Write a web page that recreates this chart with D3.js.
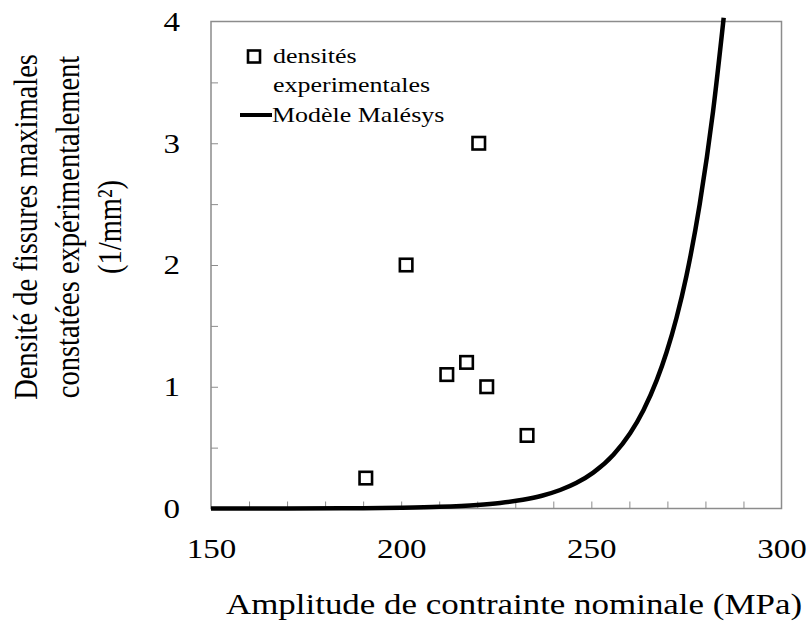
<!DOCTYPE html>
<html>
<head>
<meta charset="utf-8">
<script src="https://cdn.jsdelivr.net/npm/d3@7"></script>
<style>
  html, body { margin: 0; padding: 0; background: #fff; }
  svg { display: block; }
  svg text { font-family: "Liberation Serif", "Times New Roman", Tinos, Times, "DejaVu Serif", serif; fill: #000; }
</style>
</head>
<body>
<svg id="chart" width="807" height="630"></svg>
<script>
// Experimental maximum crack densities (stress amplitude in MPa, density in 1/mm²)
const expStress  = [190.7, 201.3, 212.0, 217.2, 220.4, 222.5, 233.1];
const expDensity = [0.25, 2.0, 1.1, 1.2, 3.0, 1.0, 0.6];

// Malésys model curve, sampled along the stress axis
const modelStress  = [150, 170, 190, 200, 210, 220, 226, 232, 237, 241.8, 246, 250.5, 255.8, 260.2, 263.7, 267.2, 269.8, 272.4, 275, 278.5, 282, 284.8];
const modelDensity = [0.0, 0.0007, 0.003, 0.0063, 0.0135, 0.029, 0.046, 0.072, 0.105, 0.152, 0.209, 0.295, 0.442, 0.618, 0.807, 1.054, 1.285, 1.567, 1.91, 2.50, 3.26, 4.03];

// Axis ticks
const xTickLabels = [150, 200, 250, 300];
const yTickLabels = [0, 1, 2, 3, 4];
const xMinorTicks = d3.range(160, 300, 10);
const yMinorTicks = d3.range(0.5, 4, 0.5);

const legendLabels = ["densités", "experimentales", "Modèle Malésys"];
const xTitle = "Amplitude de contrainte nominale (MPa)";
const yTitleLines = ["Densité de fissures maximales", "constatées expérimentalement", "(1/mm²)"];

const SERIF = '"Liberation Serif", "Times New Roman", Tinos, Times, "DejaVu Serif", serif';
const WIDEN = 1.18;   // horizontal glyph widening used for all labels

const svg = d3.select("#chart");
const plot = { left: 211, right: 781.5, top: 21.5, bottom: 508.5 };

const x = d3.scaleLinear().domain([150, 300]).range([plot.left, plot.right]);
const y = d3.scaleLinear().domain([0, 4]).range([plot.bottom, plot.top]);

// Stretch a horizontal text element sideways around its anchor
function widen(sel) {
  sel.each(function () {
    const len = this.getComputedTextLength();
    d3.select(this).attr("textLength", len * WIDEN).attr("lengthAdjust", "spacingAndGlyphs");
  });
}

// Inward minor ticks along the bottom and left edges
const axisGrey = "#8c8c8c";
svg.append("g")
  .attr("transform", `translate(0,${plot.bottom})`)
  .call(d3.axisBottom(x).tickValues(xMinorTicks).tickSize(-7).tickFormat(""))
  .call(g => g.select(".domain").remove())
  .call(g => g.selectAll("line").attr("stroke", axisGrey).attr("stroke-width", 1));
svg.append("g")
  .attr("transform", `translate(${plot.left},0)`)
  .call(d3.axisLeft(y).tickValues(yMinorTicks).tickSize(-7).tickFormat(""))
  .call(g => g.select(".domain").remove())
  .call(g => g.selectAll("line").attr("stroke", axisGrey).attr("stroke-width", 1));

// Plot frame
svg.append("rect")
  .attr("x", plot.left).attr("y", plot.top)
  .attr("width", plot.right - plot.left).attr("height", plot.bottom - plot.top)
  .attr("fill", "none").attr("stroke", axisGrey).attr("stroke-width", 1.5);

// Tick labels
svg.append("g")
  .attr("transform", `translate(0,${plot.bottom})`)
  .call(d3.axisBottom(x).tickValues(xTickLabels).tickSize(0).tickPadding(30).tickFormat(d3.format("d")))
  .attr("font-family", SERIF).attr("font-size", 28)
  .call(g => g.select(".domain").remove())
  .call(g => g.selectAll("text").attr("fill", "#000").call(widen));
svg.append("g")
  .attr("transform", `translate(${plot.left},0)`)
  .call(d3.axisLeft(y).tickValues(yTickLabels).tickSize(0).tickPadding(31).tickFormat(d3.format("d")))
  .attr("font-family", SERIF).attr("font-size", 28)
  .call(g => g.select(".domain").remove())
  .call(g => g.selectAll("text").attr("fill", "#000").call(widen));

// Model curve
const line = d3.line()
  .x(i => x(modelStress[i]))
  .y(i => y(modelDensity[i]))
  .curve(d3.curveMonotoneX);
svg.append("path")
  .datum(d3.range(modelStress.length))
  .attr("d", line)
  .attr("fill", "none").attr("stroke", "#000").attr("stroke-width", 4.5);

// Experimental points (hollow squares)
const sq = 12.5;
svg.append("g").selectAll("rect")
  .data(d3.range(expStress.length))
  .join("rect")
  .attr("x", i => x(expStress[i]) - sq / 2)
  .attr("y", i => y(expDensity[i]) - sq / 2)
  .attr("width", sq).attr("height", sq)
  .attr("fill", "#fff").attr("stroke", "#000").attr("stroke-width", 2.6);

// Legend
const lg = svg.append("g").attr("font-family", SERIF).attr("font-size", 22);
lg.append("rect").attr("x", 248).attr("y", 50.5).attr("width", 12).attr("height", 12)
  .attr("fill", "#fff").attr("stroke", "#000").attr("stroke-width", 2.6);
lg.append("text").attr("x", 273).attr("y", 63).text(legendLabels[0]).call(widen);
lg.append("text").attr("x", 273).attr("y", 92).text(legendLabels[1]).call(widen);
lg.append("line").attr("x1", 240).attr("x2", 272).attr("y1", 115).attr("y2", 115)
  .attr("stroke", "#000").attr("stroke-width", 4);
lg.append("text").attr("x", 272).attr("y", 122).text(legendLabels[2]).call(widen);

// Axis titles
svg.append("text")
  .attr("x", 514).attr("y", 614)
  .attr("text-anchor", "middle").attr("font-family", SERIF).attr("font-size", 29.6)
  .text(xTitle).call(widen);

const yt = svg.append("g")
  .attr("transform", `translate(0,227) scale(${WIDEN},1) rotate(-90)`)
  .append("text")
  .attr("text-anchor", "middle").attr("font-family", SERIF).attr("font-size", 28.5);
yTitleLines.forEach((t, i) => {
  yt.append("tspan").attr("x", 0).attr("y", 31.5 + i * 35.5).text(t);
});
</script>
</body>
</html>
